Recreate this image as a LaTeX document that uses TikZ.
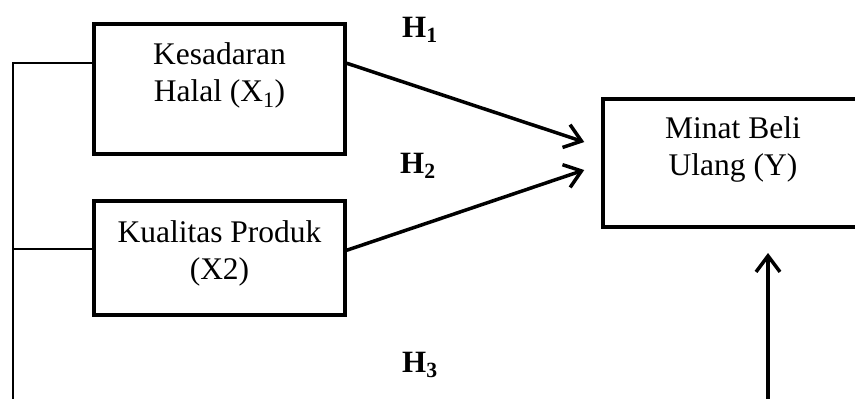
\documentclass[tikz,border=0pt]{standalone}
\usepackage{fontspec}
\setmainfont{Liberation Serif}
\usetikzlibrary{arrows.meta}

\tikzset{
  varbox/.style={draw, line width=3.5pt, rectangle, inner sep=0pt},
  boxtext/.style={anchor=north, align=center, inner sep=0pt,
    font=\fontsize{31.5}{37}\selectfont},
  hyp/.style={anchor=base west, inner sep=0pt,
    font=\fontsize{31}{34}\selectfont\bfseries},
  link/.style={line width=3.5pt, -{Straight Barb[length=16pt, width=24pt, line width=3.5pt]}},
  feed/.style={line width=2.3pt}
}

\begin{document}
\begin{tikzpicture}[x=1pt, y=-1pt]
\useasboundingbox (0,0) rectangle (855,399);
\clip (0,0) rectangle (855,399);

% variable boxes
\node[varbox, minimum width=251pt, minimum height=130pt] (x1) at (219.5,89) {};
\node[varbox, minimum width=251pt, minimum height=114pt] (x2) at (219.5,258) {};
\node[varbox, minimum width=260pt, minimum height=128pt] (y) at (733,163) {};

% box labels
\node[boxtext] (x1t) at (219.5,42.5) {Kesadaran\\Halal (X\textsubscript{1})};
\node[boxtext] (x2t) at (219.5,220) {Kualitas Produk\\(X2)};
\node[boxtext] (yt) at (733,116.5) {Minat Beli\\Ulang (Y)};

% hypothesis labels
\node[hyp] (h1) at (402,37) {H\textsubscript{1}};
\node[hyp] (h2) at (400,173) {H\textsubscript{2}};
\node[hyp] (h3) at (402,372) {H\textsubscript{3}};

% direct effects
\draw[link] ([yshift=-41pt]x1.north east) -- ([xshift=-17pt, yshift=21pt]y.west);
\draw[link] ([yshift=-51pt]x2.north east) -- ([xshift=-17pt, yshift=-7pt]y.west);

% joint effect line
\coordinate (lb) at (13,410);
\coordinate (ub) at (768,410);
\coordinate (ut) at (768,253);
\draw[feed] ([yshift=-41pt]x1.north west) -| (lb);
\draw[feed] ([yshift=-50pt]x2.north west) -- ([yshift=-50pt]x2.north west -| lb);
\draw[link] (ub) -- (ut);
\end{tikzpicture}
\end{document}
